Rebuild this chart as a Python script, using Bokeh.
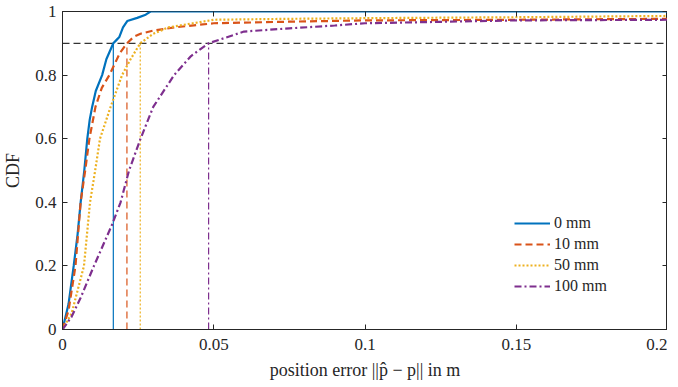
from bokeh.plotting import figure
from bokeh.models import LinearAxis, Range1d, Legend, LegendItem, FixedTicker
from bokeh.embed import file_html
from bokeh.resources import INLINE

# ---- data ----
x0 = [0, 0.002, 0.0037, 0.005, 0.006, 0.0072, 0.0082, 0.009, 0.0098, 0.011, 0.0131, 0.0145,
      0.0168, 0.0178, 0.0188, 0.02, 0.0214, 0.0247, 0.0275, 0.0291, 0.2]
y0 = [0, 0.08, 0.2, 0.3, 0.4, 0.5, 0.6, 0.66, 0.7, 0.75, 0.8, 0.85,
      0.9, 0.91, 0.92, 0.95, 0.97, 0.98, 0.99, 1.0, 1.0]

x10 = [0, 0.002, 0.0043, 0.006, 0.0075, 0.0089, 0.0109, 0.013, 0.0155, 0.0175, 0.019, 0.0213,
       0.0235, 0.0258, 0.03, 0.037, 0.05, 0.075, 0.1, 0.15, 0.2]
y10 = [0, 0.06, 0.2, 0.4, 0.5, 0.6, 0.7, 0.76, 0.8, 0.84, 0.87, 0.9,
       0.92, 0.93, 0.94, 0.95, 0.963, 0.968, 0.972, 0.974, 0.977]

x50 = [0, 0.003, 0.0071, 0.0091, 0.0108, 0.0124, 0.0159, 0.0197, 0.0225, 0.0257, 0.03, 0.035,
       0.05, 0.075, 0.1, 0.15, 0.2]
y50 = [0, 0.05, 0.2, 0.4, 0.5, 0.6, 0.7, 0.8, 0.85, 0.9, 0.93, 0.95,
       0.974, 0.977, 0.979, 0.982, 0.986]

x100 = [0, 0.003, 0.006, 0.0104, 0.0164, 0.0192, 0.022, 0.0258, 0.03, 0.0369, 0.0425, 0.0483,
        0.06, 0.075, 0.09, 0.1, 0.15, 0.2]
y100 = [0, 0.04, 0.1, 0.2, 0.33, 0.4, 0.5, 0.6, 0.7, 0.8, 0.86, 0.9,
        0.937, 0.947, 0.956, 0.963, 0.972, 0.974]

labels = ["0 mm", "10 mm", "50 mm", "100 mm"]
q90 = [0.0168, 0.0213, 0.0257, 0.0483]
level = 0.9

x_ticks = [0, 0.05, 0.1, 0.15, 0.2]
x_tick_labels = ["0", "0.05", "0.1", "0.15", "0.2"]
y_ticks = [0, 0.2, 0.4, 0.6, 0.8, 1.0]
y_tick_labels = ["0", "0.2", "0.4", "0.6", "0.8", "1"]

colors = ["#0072BD", "#D95319", "#EDB120", "#7E2F8E"]
dashes = ["solid", "7 4", "2 2", "7 3 2 3"]
FONT = "'Liberation Serif', serif"

p = figure(width=667, height=382, output_backend="svg", toolbar_location=None,
           x_range=Range1d(0, 0.2), y_range=Range1d(0, 1),
           min_border_left=54, min_border_right=0, min_border_top=11, min_border_bottom=10,
           x_axis_label="position error ||p\u0302 \u2212 p|| in m", y_axis_label="CDF")
p.grid.visible = False
p.outline_line_color = "#262626"
p.outline_line_width = 1
p.background_fill_color = "white"
p.border_fill_color = "white"

for ax, ticks, tl in [(p.xaxis[0], x_ticks, x_tick_labels), (p.yaxis[0], y_ticks, y_tick_labels)]:
    ax.ticker = FixedTicker(ticks=ticks)
    ax.major_label_overrides = {t: l for t, l in zip(ticks, tl)}
    ax.major_tick_in = 5
    ax.major_tick_out = 0
    ax.minor_tick_in = 0
    ax.minor_tick_out = 0
    ax.axis_line_color = "#262626"
    ax.major_tick_line_color = "#262626"
    ax.major_label_text_font = FONT
    ax.major_label_text_font_size = "17px"
    ax.major_label_text_color = "#262626"
    ax.axis_label_text_font = FONT
    ax.axis_label_text_font_size = "18px"
    ax.axis_label_text_font_style = "normal"
    ax.axis_label_text_color = "#262626"
p.xaxis[0].major_label_standoff = 9
p.yaxis[0].major_label_standoff = 6
p.xaxis[0].axis_label_standoff = 7
p.yaxis[0].axis_label_standoff = 9

top = LinearAxis(ticker=FixedTicker(ticks=x_ticks), major_tick_in=5, major_tick_out=0,
                 minor_tick_in=0, minor_tick_out=0, major_label_text_font_size="1px",
                 major_label_text_color=None, major_label_standoff=0,
                 axis_line_color=None, major_tick_line_color="#262626")
right = LinearAxis(ticker=FixedTicker(ticks=y_ticks), major_tick_in=5, major_tick_out=0,
                   minor_tick_in=0, minor_tick_out=0, major_label_text_font_size="1px",
                   major_label_text_color=None, major_label_standoff=0,
                   axis_line_color=None, major_tick_line_color="#262626")
p.add_layout(top, "above")
p.add_layout(right, "right")

# 0.9 reference line
p.line(x=[x_ticks[0], x_ticks[-1]], y=[level, level], line_color="black", line_width=1,
       line_dash="7 4")

# vertical quantile lines
for q, c, d in zip(q90, colors, dashes):
    p.line(x=[q, q], y=[0, level], line_color=c, line_width=1.2, line_dash=d)

renderers = []
for xs, ys, c, d in zip([x0, x10, x50, x100], [y0, y10, y50, y100], colors, dashes):
    r = p.line(x=xs, y=ys, line_color=c, line_width=2.2, line_dash=d)
    renderers.append(r)

legend = Legend(items=[LegendItem(label=l, renderers=[r]) for l, r in zip(labels, renderers)],
                location=(452, 34), border_line_color=None, background_fill_alpha=0,
                label_text_font=FONT, label_text_font_size="16px", label_text_color="#262626",
                glyph_width=36, glyph_height=16, label_standoff=4, spacing=3, padding=2, margin=0,
                label_height=16)
p.add_layout(legend, "center")

open("out.html", "w").write(file_html(p, INLINE))
